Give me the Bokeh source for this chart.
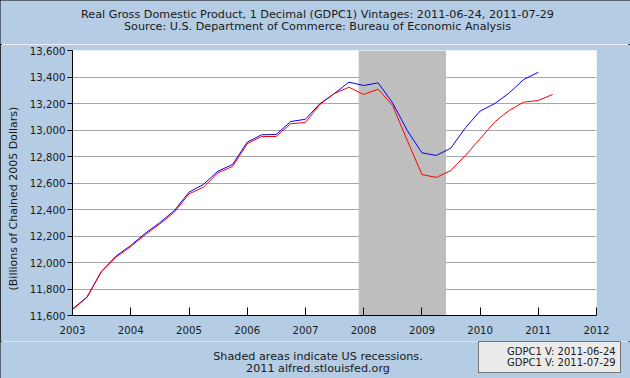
import pandas as pd
from bokeh.plotting import figure
from bokeh.layouts import column
from bokeh.models import (FixedTicker, NumeralTickFormatter, DatetimeTickFormatter,
                          Label, Legend, LegendItem, Range1d, Title)
from bokeh.embed import file_html
from bokeh.resources import INLINE

# ---------------- data ----------------
quarters = ["2003-01-01", "2003-04-01", "2003-07-01", "2003-10-01",
            "2004-01-01", "2004-04-01", "2004-07-01", "2004-10-01",
            "2005-01-01", "2005-04-01", "2005-07-01", "2005-10-01",
            "2006-01-01", "2006-04-01", "2006-07-01", "2006-10-01",
            "2007-01-01", "2007-04-01", "2007-07-01", "2007-10-01",
            "2008-01-01", "2008-04-01", "2008-07-01", "2008-10-01",
            "2009-01-01", "2009-04-01", "2009-07-01", "2009-10-01",
            "2010-01-01", "2010-04-01", "2010-07-01", "2010-10-01",
            "2011-01-01", "2011-04-01"]

gdp_v20110624 = [11650, 11738, 11932, 12048,
                 12128, 12220, 12300, 12392,
                 12531, 12589, 12689, 12740,
                 12908, 12964, 12966, 13064,
                 13081, 13198, 13275, 13361,
                 13336, 13356, 13205, 12996,
                 12828, 12808, 12863, 13017,
                 13143, 13198, 13278, 13381,
                 13436]

gdp_v20110729 = [11645, 11735, 11930, 12040,
                 12120, 12210, 12290, 12380,
                 12518, 12568, 12677, 12725,
                 12896, 12951, 12951, 13047,
                 13057, 13192, 13275, 13323,
                 13268, 13308, 13185, 12921,
                 12664, 12642, 12694, 12808,
                 12934, 13059, 13147, 13210,
                 13223, 13268]

recession_start = ["2007-12-01"]
recession_end = ["2009-06-01"]

x_tick_years = ["2003", "2004", "2005", "2006", "2007", "2008", "2009", "2010", "2011", "2012"]
y_ticks = [11600, 11800, 12000, 12200, 12400, 12600, 12800, 13000, 13200, 13400, 13600]

legend_labels = ["GDPC1 V: 2011-06-24", "GDPC1 V: 2011-07-29"]
series_colors = ["#0000FF", "#FF0000"]
title_lines = ["Real Gross Domestic Product, 1 Decimal (GDPC1) Vintages: 2011-06-24, 2011-07-29",
               "Source: U.S. Department of Commerce: Bureau of Economic Analysis"]
footer_lines = ["Shaded areas indicate US recessions.", "2011 alfred.stlouisfed.org"]
y_label = "(Billions of Chained 2005 Dollars)"

# ---------------- styling ----------------
FONT = "DejaVu Sans"
BG = "#B4CCE4"
TXT = "#1a1a1a"
W = 630
TOP_H, FOOT_H = 44, 37
MAIN_H = 378 - TOP_H - FOOT_H


def banner(height):
    f = figure(width=W, height=height, title=None, output_backend="svg", toolbar_location=None,
               x_axis_location=None, y_axis_location=None,
               x_range=Range1d(0, 1), y_range=Range1d(0, 1), frame_align=False,
               min_border_left=0, min_border_right=0, min_border_top=0, min_border_bottom=0)
    f.grid.visible = False
    f.background_fill_color = BG
    f.border_fill_color = BG
    f.outline_line_color = None
    return f


def add_text(f, x, y, text, size):
    f.add_layout(Label(x=x, y=y, x_units="screen", y_units="screen", text=text,
                       text_align="center", text_baseline="middle",
                       text_font=FONT, text_font_size=size, text_color=TXT))


# ---- top banner: titles
top = banner(TOP_H)
add_text(top, 317, TOP_H - 13.5, title_lines[0], "11.2px")
add_text(top, 317, TOP_H - 25.5, title_lines[1], "11.2px")

# ---- main chart
dates = pd.to_datetime(quarters)
year_dates = pd.to_datetime(x_tick_years)

p = figure(width=W, height=MAIN_H, title=None, x_axis_type="datetime",
           output_backend="svg", toolbar_location=None,
           x_range=Range1d(year_dates[0].to_pydatetime(), year_dates[-1].to_pydatetime()),
           y_range=Range1d(y_ticks[0], y_ticks[-1]),
           min_border_left=72, min_border_right=34, min_border_top=6, min_border_bottom=26)
p.background_fill_color = "white"
p.border_fill_color = BG
p.outline_line_color = None

p.xgrid.grid_line_color = None
p.ygrid.ticker = FixedTicker(ticks=y_ticks)
p.ygrid.grid_line_color = "#A6A6A6"
p.ygrid.grid_line_width = 1

p.yaxis.ticker = FixedTicker(ticks=y_ticks)
p.yaxis.formatter = NumeralTickFormatter(format="0,0")
p.yaxis.major_tick_out = 5
p.yaxis.major_tick_in = 0
p.yaxis.minor_tick_line_color = None
p.yaxis.axis_line_color = "black"
p.yaxis.major_tick_line_color = "black"
p.yaxis.major_label_standoff = 2
p.yaxis.major_label_text_font = FONT
p.yaxis.major_label_text_font_size = "10.2px"
p.yaxis.major_label_text_color = TXT

p.xaxis.ticker = FixedTicker(ticks=[int(d.value // 10**6) for d in year_dates])
p.xaxis.formatter = DatetimeTickFormatter(years="%Y", months="%Y", days="%Y", hours="%Y")
p.xaxis.major_tick_in = 8
p.xaxis.major_tick_out = 0
p.xaxis.minor_tick_line_color = None
p.xaxis.axis_line_color = "black"
p.xaxis.major_tick_line_color = "black"
p.xaxis.major_label_standoff = 10
p.xaxis.major_label_text_font = FONT
p.xaxis.major_label_text_font_size = "10.2px"
p.xaxis.major_label_text_color = TXT

# y-axis title: starts 25px above the frame bottom and reads upward
p.add_layout(Title(text=y_label, align="left", offset=25, standoff=9, vertical_align="top",
                   text_font=FONT, text_font_size="11px", text_font_style="normal",
                   text_color=TXT), "left")

# recession shading
p.quad(left=pd.to_datetime(recession_start), right=pd.to_datetime(recession_end),
       bottom=[y_ticks[0]], top=[y_ticks[-1]],
       fill_color="#BEBEBE", line_color=None)

# series
p.line(dates[:len(gdp_v20110624)], gdp_v20110624, line_color=series_colors[0], line_width=1)
p.line(dates[:len(gdp_v20110729)], gdp_v20110729, line_color=series_colors[1], line_width=1)

# ---- footer: notes + legend
foot = banner(FOOT_H)
add_text(foot, 317.5, FOOT_H - 15.3, footer_lines[0], "11.2px")
add_text(foot, 317.5, FOOT_H - 27, footer_lines[1], "11.2px")

proxies = [foot.line(x=[], y=[], line_color=c, line_width=3) for c in series_colors]
legend = Legend(items=[LegendItem(label=lab, renderers=[r]) for lab, r in zip(legend_labels, proxies)],
                location=(478, 5), margin=0, padding=4, spacing=-2,
                glyph_width=10, glyph_height=8, label_standoff=14, label_height=10,
                label_text_font=FONT, label_text_font_size="10px", label_text_color=TXT,
                background_fill_color="#EBEBEB", background_fill_alpha=1.0,
                border_line_color="black", border_line_width=1)
foot.add_layout(legend)

layout = column(top, p, foot, spacing=0,
                styles={"outline": "2px solid black", "outline-offset": "-2px"})

open("out.html", "w").write(file_html(layout, INLINE))
